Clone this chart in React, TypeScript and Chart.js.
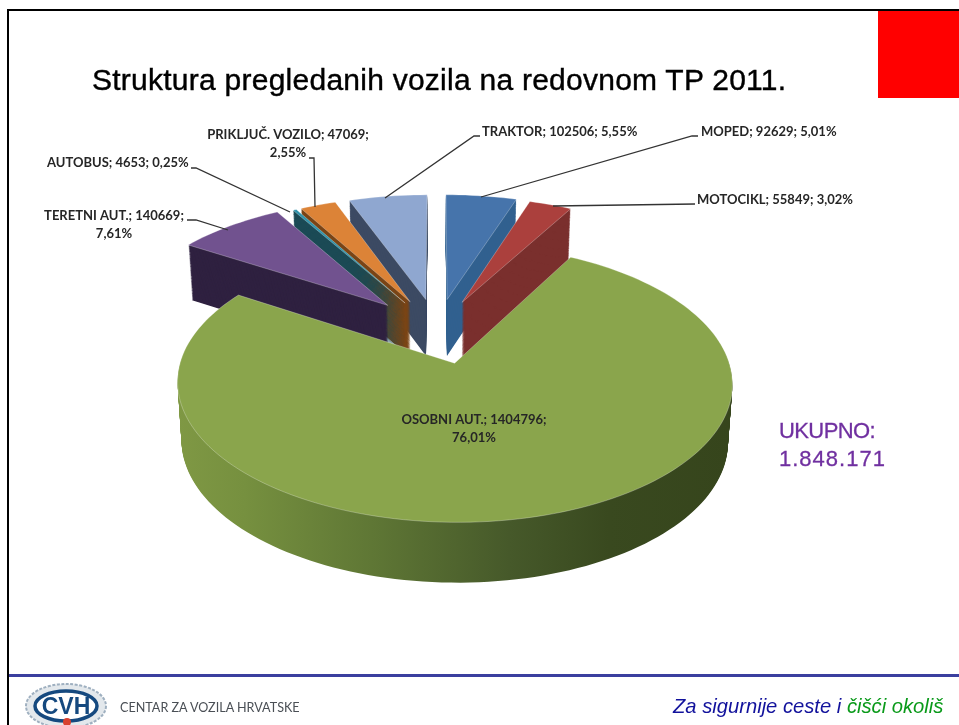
import React, { useEffect, useRef } from "react";
import { Chart, registerables } from "chart.js";

Chart.register(...registerables);

const categories = ["MOPED", "MOTOCIKL", "OSOBNI AUT.", "TERETNI AUT.", "AUTOBUS", "PRIKLJUČ. VOZILO", "TRAKTOR"];
const values = [92629, 55849, 1404796, 140669, 4653, 47069, 102506];
const topColors = ["#4674ab", "#ab403d", "#8aa54c", "#71528f", "#2f93ab", "#dc8337", "#8fa7d0"];
const wallColors = ["#31608f", "#7a2f2d", "#5d7433", "#2f2140", "#1b4a55", "#7a4415", "#3c4a63"];
const explode = [80, 78, 83, 88, 80, 80, 80];
const totalLabel = ["UKUPNO:", "1.848.171"];

// label layout: number of lines, anchor position, alignment, leader line
const labelLayout = [
  { lines: 1, x: 701, y: 132, align: "left", leader: [[698, 136], [692, 136], [481, 197]] },
  { lines: 1, x: 697, y: 200, align: "left", leader: [[695, 204], [553, 206]] },
  { lines: 2, x: 474, y: 420, align: "center", leader: [] },
  { lines: 2, x: 114, y: 216, align: "center", leader: [[187, 220], [196, 220], [228, 230]] },
  { lines: 1, x: 47, y: 163, align: "left", leader: [[191, 168], [196, 168], [290, 212]] },
  { lines: 2, x: 288, y: 135, align: "center", leader: [[309, 158], [314, 158], [315, 207]] },
  { lines: 1, x: 482, y: 132, align: "left", leader: [[480, 136], [474, 136], [385, 198]] },
];

const view = { cx: 437, cy: 330, R: 265, Rb: 127, p: 0.138, H: 57, shrink: 0.015 };
const LAYERS = 60;

const total = values.reduce((a, b) => a + b, 0);
const pct = (v: number) => ((v / total) * 100).toFixed(2).replace(".", ",") + "%";

function project(fx: number, fy: number, r: number, z: number) {
  const u = fx / r;
  const v = -fy / r;
  const w = 1 + view.p * v;
  let X = view.cx + (view.R * u) / w;
  let Y = view.cy - (view.Rb * v) / w;
  if (z > 0) {
    X = view.cx + (X - view.cx) * (1 - view.shrink * z);
    Y += z * view.H * Math.pow(w, -0.3);
  }
  return [X, Y];
}

function slicePath(ctx: CanvasRenderingContext2D, arc: any, z: number) {
  const { startAngle, endAngle, outerRadius } = arc.getProps(["startAngle", "endAngle", "outerRadius"], true);
  const mid = (startAngle + endAngle) / 2;
  const off = arc.options.offset || 0;
  const ox = Math.cos(mid) * off;
  const oy = Math.sin(mid) * off;
  const steps = Math.max(4, Math.ceil((endAngle - startAngle) / 0.03));
  ctx.beginPath();
  const c = project(ox, oy, outerRadius, z);
  ctx.moveTo(c[0], c[1]);
  for (let i = 0; i <= steps; i++) {
    const a = startAngle + ((endAngle - startAngle) * i) / steps;
    const p = project(ox + Math.cos(a) * outerRadius, oy + Math.sin(a) * outerRadius, outerRadius, z);
    ctx.lineTo(p[0], p[1]);
  }
  ctx.closePath();
}

const pie3d = {
  id: "pie3d",
  beforeDatasetsDraw(chart: any) {
    const ctx: CanvasRenderingContext2D = chart.ctx;
    const arcs = chart.getDatasetMeta(0).data;
    const grad = ctx.createLinearGradient(178, 0, 730, 0);
    grad.addColorStop(0, "#7f9844");
    grad.addColorStop(0.12, "#76903f");
    grad.addColorStop(0.35, "#5f7735");
    grad.addColorStop(0.6, "#46592a");
    grad.addColorStop(0.78, "#39491f");
    grad.addColorStop(1, "#36451c");
    ctx.save();
    for (let l = LAYERS; l >= 1; l--) {
      arcs.forEach((arc: any, i: number) => {
        slicePath(ctx, arc, l / LAYERS);
        ctx.fillStyle = i === 2 ? grad : wallColors[i];
        ctx.fill();
      });
    }
    arcs.forEach((arc: any, i: number) => {
      slicePath(ctx, arc, 0);
      ctx.fillStyle = topColors[i];
      ctx.fill();
      ctx.strokeStyle = "rgba(255,255,255,0.35)";
      ctx.lineWidth = 0.8;
      ctx.stroke();
    });
    ctx.restore();
    return false;
  },
  afterDraw(chart: any) {
    const ctx: CanvasRenderingContext2D = chart.ctx;
    ctx.save();
    ctx.font = "bold 13px Lato";
    ctx.textBaseline = "middle";
    ctx.fillStyle = "#262626";
    ctx.strokeStyle = "#333333";
    ctx.lineWidth = 1.3;
    categories.forEach((name, i) => {
      const lay = labelLayout[i];
      ctx.textAlign = lay.align as CanvasTextAlign;
      if (lay.lines === 1) {
        ctx.fillText(`${name}; ${values[i]}; ${pct(values[i])}`, lay.x, lay.y);
      } else {
        ctx.fillText(`${name}; ${values[i]};`, lay.x, lay.y);
        ctx.fillText(pct(values[i]), lay.x, lay.y + 18);
      }
      if (lay.leader.length) {
        ctx.beginPath();
        lay.leader.forEach((pt, j) => (j ? ctx.lineTo(pt[0], pt[1]) : ctx.moveTo(pt[0], pt[1])));
        ctx.stroke();
      }
    });
    ctx.restore();
  },
};

export default function App() {
  const ref = useRef<HTMLCanvasElement | null>(null);
  useEffect(() => {
    const chart = new Chart(ref.current as HTMLCanvasElement, {
      type: "pie",
      data: {
        labels: categories,
        datasets: [
          {
            data: values,
            backgroundColor: topColors,
            offset: explode,
            borderWidth: 0,
          } as any,
        ],
      },
      options: {
        animation: false,
        responsive: false,
        plugins: { legend: { display: false }, tooltip: { enabled: false }, title: { display: false } },
      },
      plugins: [pie3d as any],
    });
    return () => chart.destroy();
  }, []);

  const abs = (o: React.CSSProperties): React.CSSProperties => ({ position: "absolute", whiteSpace: "nowrap", ...o });
  return (
    <div style={{ position: "fixed", left: 0, top: 0, width: 959, height: 725, overflow: "hidden", background: "#fff" }}>
      <canvas ref={ref} width={959} height={725} style={{ position: "absolute", left: 0, top: 0, display: "block" }} />
      <div style={abs({ left: 7, top: 9, width: 952, height: 2, background: "#000" })} />
      <div style={abs({ left: 7, top: 9, width: 2, height: 716, background: "#000" })} />
      <div style={abs({ left: 878, top: 11, width: 81, height: 87, background: "#ff0000" })} />
      <div style={abs({ left: 92, top: 60, fontFamily: "'Liberation Sans'", fontSize: 30, letterSpacing: 0.25, lineHeight: "40px", color: "#000", WebkitTextStroke: "0.4px #000" })}>
        Struktura pregledanih vozila na redovnom TP 2011.
      </div>
      <div style={abs({ left: 779, top: 417, fontFamily: "'Liberation Sans'", fontSize: 22, lineHeight: "28px", color: "#7030a0", WebkitTextStroke: "0.3px #7030a0" })}>
        <span style={{ letterSpacing: -0.6 }}>{totalLabel[0]}</span>
        <br />
        <span style={{ letterSpacing: 1 }}>{totalLabel[1]}</span>
      </div>
      <div style={abs({ left: 9, top: 674, width: 950, height: 3, background: "#3b3f9f" })} />
      <svg width={90} height={50} style={{ position: "absolute", left: 22, top: 675 }}>
        <ellipse cx={44} cy={31} rx={40} ry={22} fill="#e3e8ec" stroke="#9fb0c0" strokeWidth={2} strokeDasharray="3 1.5" />
        <ellipse cx={44} cy={31} rx={31} ry={15} fill="#fff" stroke="#15497f" strokeWidth={3.5} />
        <text x={44} y={39} textAnchor="middle" fontFamily="'Liberation Sans'" fontWeight="bold" fontSize={23} fill="#15497f">CVH</text>
        <circle cx={45} cy={47} r={4} fill="#d8402f" />
      </svg>
      <div style={abs({ left: 120, top: 700, fontFamily: "Lato", fontSize: 12.6, lineHeight: "16px", color: "#4a4f55" })}>
        CENTAR ZA VOZILA HRVATSKE
      </div>
      <div style={abs({ left: 673, top: 694, fontFamily: "'Liberation Sans'", fontStyle: "italic", fontSize: 20.2, lineHeight: "24px", color: "#12129c" })}>
        Za sigurnije ceste i <span style={{ color: "#0a9a1a" }}>čišći okoliš</span>
      </div>
    </div>
  );
}
